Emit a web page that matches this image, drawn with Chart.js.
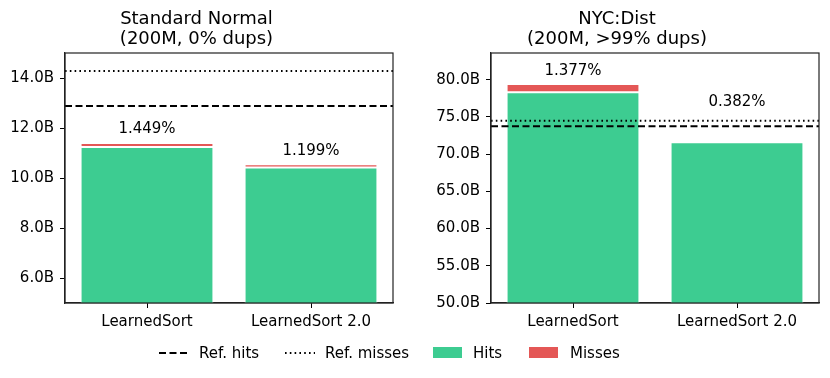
<!DOCTYPE html>
<html><head><meta charset="utf-8">
<script src="https://cdn.jsdelivr.net/npm/chart.js@4"></script>
<style>
body{margin:0;background:#fff;width:830px;height:378px;overflow:hidden;position:relative;font-family:'DejaVu Sans',sans-serif;}
canvas{position:absolute;top:0;}
#c1{left:0;}
#c2{left:415px;}
.lt{position:absolute;top:343px;font-size:15px;line-height:20px;color:#000;white-space:nowrap;}
svg{position:absolute;left:0;top:0;}
</style></head><body>
<canvas id="c1" width="415" height="335"></canvas>
<canvas id="c2" width="415" height="335"></canvas>
<svg width="830" height="378">
  <line x1="159" y1="353" x2="189" y2="353" stroke="#000" stroke-width="2" stroke-dasharray="7,3.5"/>
  <line x1="285" y1="353" x2="315" y2="353" stroke="#000" stroke-width="2" stroke-dasharray="1.6,3.2"/>
  <rect x="433" y="347" width="29" height="11" fill="#3dcc91"/>
  <rect x="529" y="347" width="29" height="11" fill="#e45756"/>
</svg>
<span class="lt" style="left:199px">Ref. hits</span>
<span class="lt" style="left:325px">Ref. misses</span>
<span class="lt" style="left:473px">Hits</span>
<span class="lt" style="left:570px">Misses</span>
<script>
const categories = ['LearnedSort', 'LearnedSort 2.0'];

const leftTitle = ['Standard Normal', '(200M, 0% dups)'];
const leftHits = [11.24, 10.42];
const leftMisses = [0.165, 0.126];
const leftRefHits = 12.88;
const leftRefMisses = 14.28;
const leftPctLabels = ['1.449%', '1.199%'];
const leftPctLabelY = [11.96, 11.08];
const leftTicks = [6, 8, 10, 12, 14];
const leftRange = [5.0, 15.0];

const rightTitle = ['NYC:Dist', '(200M, >99% dups)'];
const rightHits = [78.33, 71.6];
const rightMisses = [1.09, 0.275];
const rightRefHits = 73.75;
const rightRefMisses = 74.51;
const rightPctLabels = ['1.377%', '0.382%'];
const rightPctLabelY = [81.1, 77.05];
const rightTicks = [50, 55, 60, 65, 70, 75, 80];
const rightRange = [50.0, 83.6];

const FONT = 'DejaVu Sans';
const GREEN = '#3dcc91';
const RED = '#e45756';

const overlayPlugin = {
  id: 'overlay',
  afterDatasetsDraw(chart, args, opts) {
    const ctx = chart.ctx;
    const a = chart.chartArea;
    const y = chart.scales.y;
    const x = chart.scales.x;
    ctx.save();
    ctx.strokeStyle = '#000';
    ctx.lineWidth = 2;
    ctx.setLineDash([7, 3.5]);
    let py = y.getPixelForValue(opts.refHits);
    ctx.beginPath(); ctx.moveTo(a.left, py); ctx.lineTo(a.right, py); ctx.stroke();
    ctx.setLineDash([1.6, 3.2]);
    py = y.getPixelForValue(opts.refMisses);
    ctx.beginPath(); ctx.moveTo(a.left, py); ctx.lineTo(a.right, py); ctx.stroke();
    ctx.setLineDash([]);
    ctx.fillStyle = '#000';
    ctx.font = '15px "' + FONT + '"';
    ctx.textAlign = 'center';
    ctx.textBaseline = 'middle';
    opts.labels.forEach((t, i) => {
      ctx.fillText(t, x.getPixelForValue(i), y.getPixelForValue(opts.labelY[i]));
    });
    ctx.strokeStyle = '#222';
    ctx.lineWidth = 1.2;
    ctx.strokeRect(a.left, a.top, a.right - a.left, a.bottom - a.top);
    ctx.restore();
  }
};

function makeChart(id, title, hits, misses, refHits, refMisses, labels, labelY, ticks, range, yWidth, rightPad) {
  return new Chart(document.getElementById(id), {
    type: 'bar',
    data: {
      labels: categories,
      datasets: [
        { label: 'Hits', data: hits, backgroundColor: GREEN, borderColor: '#fff', borderWidth: 1, borderSkipped: false, barPercentage: 0.81, categoryPercentage: 1 },
        { label: 'Misses', data: misses, backgroundColor: RED, borderColor: '#fff', borderWidth: 1, borderSkipped: false, barPercentage: 0.81, categoryPercentage: 1 }
      ]
    },
    options: {
      responsive: false,
      animation: false,
      layout: { padding: { left: 0, right: rightPad, top: 0, bottom: 0 } },
      plugins: {
        legend: { display: false },
        tooltip: { enabled: false },
        title: {
          display: true, text: title, color: '#000',
          font: { family: FONT, size: 18, weight: 'normal', lineHeight: 20 / 18 },
          padding: { top: 9, bottom: 4 }
        },
        overlay: { refHits, refMisses, labels, labelY }
      },
      scales: {
        x: {
          stacked: true,
          offset: true,
          grid: { display: true, offset: false, drawOnChartArea: false, drawTicks: true, tickLength: 5, color: '#000' },
          border: { display: true, color: '#222', width: 1.2 },
          ticks: { color: '#000', font: { family: FONT, size: 15 }, padding: 5 },
          afterFit(s) { s.height = 32; }
        },
        y: {
          stacked: true,
          min: range[0], max: range[1],
          afterBuildTicks(s) { s.ticks = ticks.map(v => ({ value: v })); },
          grid: { display: true, drawOnChartArea: false, drawTicks: true, tickLength: 5, color: '#000' },
          border: { display: true, color: '#222', width: 1.2 },
          ticks: { color: '#000', font: { family: FONT, size: 15 }, padding: 6, callback: v => Number(v).toFixed(1) + 'B' },
          afterFit(s) { s.width = yWidth; }
        }
      }
    },
    plugins: [overlayPlugin]
  });
}

makeChart('c1', leftTitle, leftHits, leftMisses, leftRefHits, leftRefMisses, leftPctLabels, leftPctLabelY, leftTicks, leftRange, 65, 22);
makeChart('c2', rightTitle, rightHits, rightMisses, rightRefHits, rightRefMisses, rightPctLabels, rightPctLabelY, rightTicks, rightRange, 76, 11);
</script>
</body></html>
